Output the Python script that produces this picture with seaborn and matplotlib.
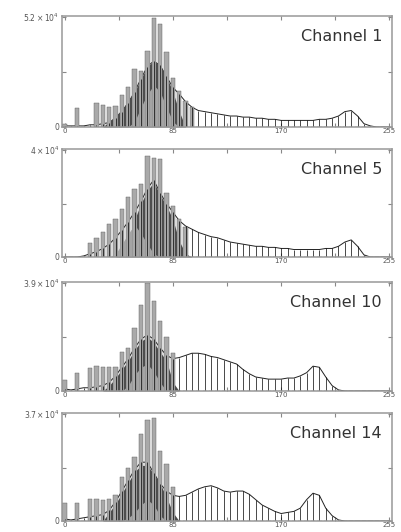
import numpy as np
import matplotlib
matplotlib.use("Agg")
import matplotlib.pyplot as plt
import seaborn as sns

# grey level bins (every 5th level)
levels = np.arange(0, 256, 5)

channels = ["Channel 1", "Channel 5", "Channel 10", "Channel 14"]
peak_counts = [52000, 40000, 39000, 37000]
peak_labels = [r"$5.2\times10^4$", r"$4\times10^4$", r"$3.9\times10^4$", r"$3.7\times10^4$"]

# heights in % of each panel's peak count
env1 = [1, 1, 1, 1, 2, 2, 3, 4, 8, 14, 22, 32, 44, 55, 60, 56, 46, 36, 30, 23,
        18, 15, 14, 13, 12, 11, 10, 10, 9, 9, 8, 8, 7, 7, 6, 6, 6, 6, 6, 6,
        7, 7, 8, 10, 14, 15, 10, 3, 1, 0, 0, 0]
spike1 = [3, 0, 17, 0, 0, 22, 20, 18, 19, 29, 36, 53, 51, 69, 99, 94, 68, 45, 33, 24,
          18, 0, 0, 0, 0, 0, 0, 0, 0, 0, 0, 0, 0, 0, 0, 0, 0, 0, 0, 0,
          0, 0, 0, 0, 0, 0, 0, 0, 0, 0, 0, 0]
dark1 = [0, 0, 0, 0, 0, 0, 0, 5, 10, 16, 24, 32, 44, 55, 60, 56, 46, 32, 14, 0,
         0, 0, 0, 0, 0, 0, 0, 0, 0, 0, 0, 0, 0, 0, 0, 0, 0, 0, 0, 0,
         0, 0, 0, 0, 0, 0, 0, 0, 0, 0, 0, 0]
light1 = [0, 0, 0, 0, 0, 0, 0, 0, 0, 0, 0, 5, 18, 30, 38, 32, 18, 5, 0, 0,
          0, 0, 0, 0, 0, 0, 0, 0, 0, 0, 0, 0, 0, 0, 0, 0, 0, 0, 0, 0,
          0, 0, 0, 0, 0, 0, 0, 0, 0, 0, 0, 0]

env2 = [0, 0, 0, 1, 3, 5, 8, 12, 18, 25, 33, 42, 52, 64, 72, 60, 50, 42, 34, 29,
        26, 23, 21, 19, 18, 16, 14, 13, 12, 11, 10, 10, 9, 9, 8, 8, 7, 7, 7, 7,
        7, 8, 8, 10, 14, 16, 10, 2, 0, 0, 0, 0]
spike2 = [0, 0, 0, 0, 13, 18, 23, 31, 36, 45, 56, 64, 68, 94, 93, 92, 60, 48, 36, 28,
          0, 0, 0, 0, 0, 0, 0, 0, 0, 0, 0, 0, 0, 0, 0, 0, 0, 0, 0, 0,
          0, 0, 0, 0, 0, 0, 0, 0, 0, 0, 0, 0]
dark2 = [0, 0, 0, 0, 0, 0, 0, 0, 0, 5, 15, 35, 50, 62, 70, 58, 48, 35, 15, 3,
         0, 0, 0, 0, 0, 0, 0, 0, 0, 0, 0, 0, 0, 0, 0, 0, 0, 0, 0, 0,
         0, 0, 0, 0, 0, 0, 0, 0, 0, 0, 0, 0]
light2 = [0, 0, 0, 0, 0, 0, 0, 0, 3, 12, 22, 30, 22, 12, 3, 0, 0, 0, 0, 0,
          0, 0, 0, 0, 0, 0, 0, 0, 0, 0, 0, 0, 0, 0, 0, 0, 0, 0, 0, 0,
          0, 0, 0, 0, 0, 0, 0, 0, 0, 0, 0, 0]

env3 = [2, 1, 2, 3, 3, 4, 5, 8, 14, 22, 30, 40, 48, 52, 48, 40, 33, 30, 31, 33,
        35, 35, 34, 32, 31, 29, 27, 25, 20, 16, 13, 12, 11, 11, 11, 12, 12, 14, 17, 23,
        22, 13, 5, 1, 0, 0, 0, 0, 0, 0, 0, 0]
spike3 = [10, 0, 17, 0, 21, 23, 22, 22, 22, 36, 40, 58, 80, 100, 83, 65, 50, 35, 0, 0,
          0, 0, 0, 0, 0, 0, 0, 0, 0, 0, 0, 0, 0, 0, 0, 0, 0, 0, 0, 0,
          0, 0, 0, 0, 0, 0, 0, 0, 0, 0, 0, 0]
dark3 = [0, 0, 0, 0, 0, 0, 0, 5, 12, 20, 28, 38, 46, 50, 45, 36, 28, 8, 0, 0,
         0, 0, 0, 0, 0, 0, 0, 0, 0, 0, 0, 0, 0, 0, 0, 0, 0, 0, 0, 0,
         0, 0, 0, 0, 0, 0, 0, 0, 0, 0, 0, 0]
light3 = [0, 0, 0, 0, 0, 0, 0, 0, 0, 0, 5, 15, 22, 25, 18, 8, 0, 0, 0, 0,
          0, 0, 0, 0, 0, 0, 0, 0, 0, 0, 0, 0, 0, 0, 0, 0, 0, 0, 0, 0,
          0, 0, 0, 0, 0, 0, 0, 0, 0, 0, 0, 0]

env4 = [2, 1, 2, 3, 4, 5, 6, 10, 18, 28, 38, 48, 55, 55, 45, 35, 28, 24, 23, 24,
        27, 30, 32, 33, 31, 28, 27, 28, 28, 25, 20, 15, 12, 9, 7, 8, 9, 12, 20, 26,
        24, 12, 5, 1, 0, 0, 0, 0, 0, 0, 0, 0]
spike4 = [17, 0, 17, 0, 21, 21, 20, 21, 24, 41, 50, 60, 81, 94, 96, 65, 53, 32, 0, 0,
          0, 0, 0, 0, 0, 0, 0, 0, 0, 0, 0, 0, 0, 0, 0, 0, 0, 0, 0, 0,
          0, 0, 0, 0, 0, 0, 0, 0, 0, 0, 0, 0]
dark4 = [0, 0, 0, 0, 0, 0, 0, 8, 16, 26, 36, 46, 52, 52, 44, 35, 22, 8, 0, 0,
         0, 0, 0, 0, 0, 0, 0, 0, 0, 0, 0, 0, 0, 0, 0, 0, 0, 0, 0, 0,
         0, 0, 0, 0, 0, 0, 0, 0, 0, 0, 0, 0]
light4 = [0, 0, 0, 0, 0, 0, 0, 0, 0, 0, 3, 8, 15, 20, 15, 5, 0, 0, 0, 0,
          0, 0, 0, 0, 0, 0, 0, 0, 0, 0, 0, 0, 0, 0, 0, 0, 0, 0, 0, 0,
          0, 0, 0, 0, 0, 0, 0, 0, 0, 0, 0, 0]

envs = [env1, env2, env3, env4]
spikes = [spike1, spike2, spike3, spike4]
darks = [dark1, dark2, dark3, dark4]
lights = [light1, light2, light3, light4]

sns.set_style("ticks")
plt.rcParams["font.family"] = ["DejaVu Sans"]

fig = plt.figure(figsize=(4.01, 5.32), dpi=100)
# axes boxes in pixels: (top, bottom)
boxes = [(16, 127), (149, 257), (282, 391), (413, 521)]
W, H = 401, 532
left_px, right_px = 62, 392

for i, (top, bot) in enumerate(boxes):
    ax = fig.add_axes([left_px / W, 1 - bot / H, (right_px - left_px) / W, (bot - top) / H])
    scale = peak_counts[i] / 100.0
    env = np.array(envs[i]) * scale
    spk = np.array(spikes[i]) * scale
    drk = np.array(darks[i]) * scale
    lgt = np.array(lights[i]) * scale

    sns.lineplot(x=levels, y=env, color="#222222", lw=0.7, ax=ax, zorder=1)
    ax.fill_between(levels, 0, drk, color="#4a4a4a", lw=0, zorder=1.2)
    ax.fill_between(levels, 0, lgt, color="#b8b8b8", lw=0, zorder=1.5)
    ax.bar(levels, spk, width=3.4, color="#a9a9a9", edgecolor="#5a5a5a", linewidth=0.3, zorder=2)
    ax.vlines(levels, 0, env, color="black", lw=0.5, zorder=2.5)

    ax.set_xlim(-2, 257)
    ax.set_ylim(0, peak_counts[i] * 1.01)
    ax.set_xticks([0, 85, 170, 255])
    ax.set_xticklabels(["0", "85", "170", "255"])
    ax.set_xticks([42.5, 127.5, 212.5], minor=True)
    ax.set_yticks([0, peak_counts[i]])
    ax.set_yticklabels(["0", peak_labels[i]])
    ax.set_yticks([peak_counts[i] / 2], minor=True)
    ax.tick_params(which="both", direction="in", top=True, right=True, length=3,
                   width=0.8, color="#888888", labelsize=5.5, labelcolor="#555555", pad=2)
    ax.tick_params(axis="x", labelsize=5, pad=1)
    for s in ax.spines.values():
        s.set_color("#999999")
        s.set_linewidth(1.1)
    ax.text(0.97, 0.88, channels[i], transform=ax.transAxes, ha="right", va="top",
            fontsize=11.5, color="#333333", zorder=5)

fig.savefig("out.png", dpi=100)
